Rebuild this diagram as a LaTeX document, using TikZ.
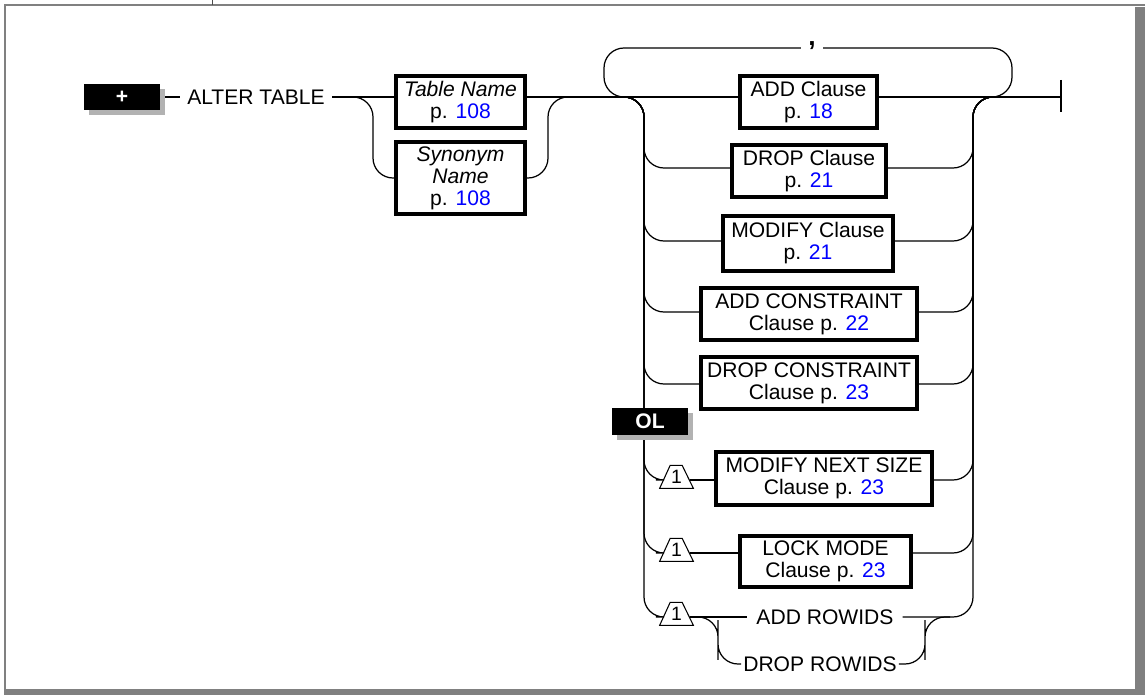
\documentclass[tikz,border=0pt]{standalone}
\usepackage{fontspec}
\setmainfont{Liberation Sans}
\usetikzlibrary{shadows}

\def\plink#1{\textcolor{blue}{#1}}
\def\levelmark#1{\draw[line width=0.6pt] (#1.south west) -- ++(10.5,-23) -- ++(12,0) -- (#1.south east) -- cycle;}

\tikzset{
	rail/.style={line width=0.7pt, rounded corners=0.4cm},
	clause/.style={draw, line width=1.9pt, align=center, inner sep=0pt, font=\fontsize{12}{12.5}\selectfont},
	keyword/.style={inner xsep=4pt, inner ysep=2pt, font=\fontsize{12}{12.5}\selectfont},
	badge/.style={fill=black, text=white, minimum width=1.52cm, inner sep=0pt, font=\bfseries\fontsize{12}{12}\selectfont, drop shadow={shadow xshift=0.1cm, shadow yshift=-0.1cm, fill=black!30, opacity=1}},
	level/.style={minimum width=0.66cm, minimum height=0.46cm, inner sep=0pt, text depth=0pt, font=\fontsize{11}{11}\selectfont},
	intri/.style={shorten >=-0.075cm},
	outtri/.style={shorten <=-0.075cm}
}

\begin{document}
\begin{tikzpicture}[x=0.02cm, y=-0.02cm]
	\useasboundingbox (0,0) rectangle (1145,695);
	
	\fill[black!50] (1135,7) rectangle (1145,695);
	\fill[black!50] (4,689) rectangle (1145,695);
	\draw[black!50, line width=1.1pt] (4,5) -- (1145,5);
	\draw[black!50, line width=1.1pt] (5,5) -- (5,690);
	\draw[black!70] (212,0) -- (212,5);
	
	\node[badge, minimum height=0.52cm] (plus) at (122,97) {+};
	\node[keyword] (alter) at (256,97) {ALTER TABLE};
	\node[clause, minimum width=2.58cm, minimum height=1.04cm] (tname) at (460.5,102) {\textit{Table Name}\\p. \plink{108}};
	\node[clause, minimum width=2.58cm, minimum height=1.44cm] (syn) at (460.5,178) {\textit{Synonym}\\\textit{Name}\\p. \plink{108}};
	
	\node[text height=0pt, text depth=0pt, inner xsep=4pt, font=\bfseries\fontsize{15}{15}\selectfont] (comma) at (812,48) {\raisebox{1.2pt}{,}};
	
	\node[clause, minimum width=2.74cm, minimum height=1.04cm] (add) at (808.5,102) {ADD Clause\\p. \plink{18}};
	\node[clause, minimum width=3.08cm, minimum height=1.04cm] (drop) at (809,171) {DROP Clause\\p. \plink{21}};
	\node[clause, minimum width=3.4cm, minimum height=1.1cm] (modify) at (808,243.5) {MODIFY Clause\\p. \plink{21}};
	\node[clause, minimum width=4.32cm, minimum height=1.04cm] (addc) at (809,314) {ADD CONSTRAINT\\Clause p. \plink{22}};
	\node[clause, minimum width=4.32cm, minimum height=1.04cm] (dropc) at (809,383) {DROP CONSTRAINT\\Clause p. \plink{23}};
	\node[clause, minimum width=4.32cm, minimum height=1.06cm] (nextsize) at (824,478.5) {MODIFY NEXT SIZE\\Clause p. \plink{23}};
	\node[clause, minimum width=3.42cm, minimum height=1.02cm] (lock) at (825.5,561.5) {LOCK MODE\\Clause p. \plink{23}};
	\node[keyword, inner xsep=5pt] (addrow) at (825,617) {ADD ROWIDS};
	\node[keyword, inner xsep=1pt] (droprow) at (820,664) {DROP ROWIDS};
	
	\node[level] (lvl6) at (676.5,476.5) {1};
	\node[level] (lvl7) at (676.5,549.5) {1};
	\node[level] (lvl8) at (676.5,613.5) {1};
	\levelmark{lvl6}
	\levelmark{lvl7}
	\levelmark{lvl8}
	
	\coordinate (ssplit) at (373,137);
	\coordinate (sjoin) at (548,137);
	\coordinate (tjoin) at (572,97);
	\coordinate (loopl) at (604,97);
	\coordinate (loopls) at (630,97);
	\coordinate (loopr) at (1012,97);
	\coordinate (looprs) at (988,97);
	\coordinate (lsplit) at (622,97);
	\coordinate (rrail) at (973,97);
	\coordinate (rexit) at (995,97);
	\coordinate (stop) at (1061,97);
	\coordinate (r2) at (644,168);
	\coordinate (r3) at (644,241);
	\coordinate (r4) at (644,312);
	\coordinate (r5) at (644,384);
	\coordinate (r6) at (644,480);
	\coordinate (r7) at (644,553);
	\coordinate (r8) at (644,617);
	\coordinate (dsplit) at (718,640);
	\coordinate (djoin) at (925,640);
	\coordinate (rjoin8) at (950,617);
	
	\draw[rail, shorten <=0.1cm] (plus.east) -- (alter.west);
	\draw[rail] (alter.east) -- (tname.west |- alter);
	\draw[rail] (alter.east) -| (ssplit) |- (syn.west);
	\draw[rail] (syn.east) -| (sjoin) |- (tjoin);
	\draw[rail] (tname.east |- alter) -- (add.west |- alter);
	\draw[rail] (add.east |- alter) -- (stop);
	\draw[line width=0.7pt] (stop) ++(0,-17) -- ++(0,32);
	
	\draw[rail] (comma.west) -| (loopl) -- (loopls);
	\draw[rail] (comma.east) -| (loopr) -- (looprs);
	
	\draw[rail] (lsplit) -| (r2) -- (drop.west |- r2);
	\draw[rail] (lsplit) -| (r3) -- (modify.west |- r3);
	\draw[rail] (lsplit) -| (r4) -- (addc.west |- r4);
	\draw[rail] (lsplit) -| (r5) -- (dropc.west |- r5);
	\draw[rail, intri] (lsplit) -| (r6) -- (lvl6.west |- r6);
	\draw[rail, intri] (lsplit) -| (r7) -- (lvl7.west |- r7);
	\draw[rail, intri] (lsplit) -| (r8) -- (lvl8.west |- r8);
	
	\draw[rail, outtri] (lvl6.east |- r6) -- (nextsize.west |- r6);
	\draw[rail, outtri] (lvl7.east |- r7) -- (lock.west |- r7);
	\draw[rail, outtri] (lvl8.east |- r8) -- (addrow.west);
	\draw[rail, outtri] (lvl8.east |- r8) -| (dsplit) |- (droprow.west);
	
	\draw[rail] (drop.east |- r2) -| (rrail) -- (rexit);
	\draw[rail] (modify.east |- r3) -| (rrail) -- (rexit);
	\draw[rail] (addc.east |- r4) -| (rrail) -- (rexit);
	\draw[rail] (dropc.east |- r5) -| (rrail) -- (rexit);
	\draw[rail] (nextsize.east |- r6) -| (rrail) -- (rexit);
	\draw[rail] (lock.east |- r7) -| (rrail) -- (rexit);
	\draw[rail] (addrow.east) -| (rrail) -- (rexit);
	\draw[rail] (droprow.east) -| (djoin) |- (rjoin8);
	
	\node[badge, minimum height=0.54cm] (ol) at (650,421.5) {OL};
	
\end{tikzpicture}
\end{document}
